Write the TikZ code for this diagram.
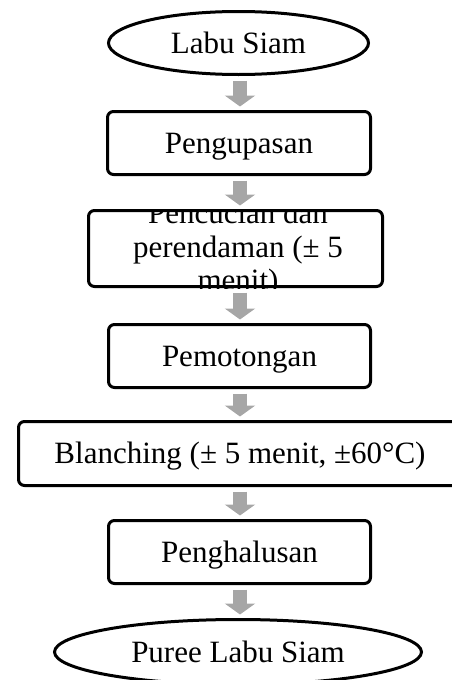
\documentclass[tikz,border=0pt]{standalone}
\usepackage{fontspec}
\setmainfont{Liberation Serif}
\usetikzlibrary{shapes.geometric,arrows.meta}
\definecolor{flowgray}{RGB}{166,166,166}
\begin{document}
\begin{tikzpicture}[x=1pt,y=-1pt,
  every node/.style={font=\fontsize{31}{35}\selectfont, inner sep=0pt,
    text height=22pt, text depth=2pt},
  stepbox/.style={draw, line width=3pt, rounded corners=6pt},
  terminal/.style={draw, ellipse, line width=3pt},
  flow/.style={line width=14pt, draw=flowgray,
    -{Triangle[width=30pt,length=11pt]},
    shorten <=4.5pt, shorten >=3.5pt}]
\useasboundingbox (0,0) rectangle (452,680);
\coordinate (ax) at (240,0);

% process steps
\node[terminal, minimum width=260pt, minimum height=63pt] (start) at (238.5,43) {Labu Siam};
\node[stepbox, minimum width=263pt, minimum height=63pt] (b1) at (239,143) {Pengupasan};
\node[stepbox, minimum width=294pt, minimum height=76pt] (b2) at (235.5,248.5) {};
\begin{scope}
  \clip (b2.south west) rectangle (b2.north east);
  \node[anchor=base] (t2a) at (238,223) {Pencucian dan};
  \node[anchor=base] (t2b) at (238,257) {perendaman (± 5};
  \node[anchor=base] (t2c) at (238,290) {menit)};
\end{scope}
\node[stepbox, minimum width=262pt, minimum height=63pt] (b3) at (239.5,356) {Pemotongan};
\node[stepbox, minimum width=443pt, minimum height=64pt] (b4) at (240,453.5) {Blanching (± 5 menit, ±60°C)};
\node[stepbox, minimum width=262pt, minimum height=63pt] (b5) at (239.5,552) {Penghalusan};
\node[terminal, minimum width=367pt, minimum height=65pt] (end) at (238,652) {Puree Labu Siam};

% block arrows between steps
\draw[flow] (start.south -| ax) -- (b1.north -| ax);
\draw[flow] (b1.south -| ax) -- (b2.north -| ax);
\draw[flow] (b2.south -| ax) -- (b3.north -| ax);
\draw[flow] (b3.south -| ax) -- (b4.north -| ax);
\draw[flow] (b4.south -| ax) -- (b5.north -| ax);
\draw[flow] (b5.south -| ax) -- (end.north -| ax);
\end{tikzpicture}
\end{document}
